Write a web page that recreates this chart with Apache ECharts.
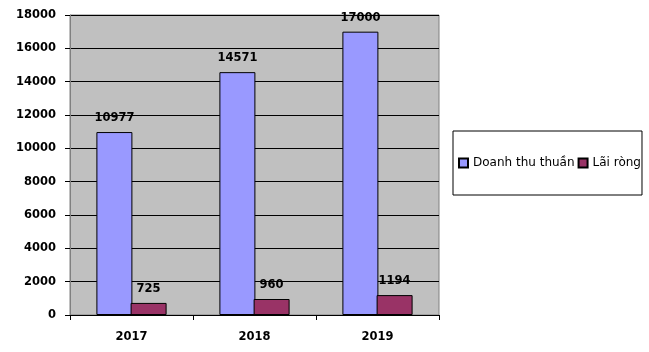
<!DOCTYPE html>
<html>
<head>
<meta charset="utf-8">
<script src="https://cdn.jsdelivr.net/npm/echarts@6/dist/echarts.min.js"></script>
<style>
  html, body { margin: 0; padding: 0; background: #fff; }
  #chart { width: 649px; height: 352px; }
</style>
</head>
<body>
<div id="chart"></div>
<script>
var years = ['2017', '2018', '2019'];
var revenue = [10977, 14571, 17000];
var netProfit = [725, 960, 1194];
var seriesNames = ['Doanh thu thuần', 'Lãi ròng'];
var colors = ['#9999FF', '#993366'];

var font = 'DejaVu Sans';

var labelStyle = {
  show: true,
  position: 'top',
  distance: 8,
  color: '#000',
  fontFamily: font,
  fontWeight: 'bold',
  fontSize: 11.5
};

var chart = echarts.init(document.getElementById('chart'));

var option = {
  animation: false,
  backgroundColor: '#fff',
  grid: {
    left: 70,
    right: 210,
    top: 15,
    bottom: 37,
    show: true,
    backgroundColor: '#C0C0C0',
    borderColor: '#808080',
    borderWidth: 1
  },
  legend: {
    left: 453,
    top: 131,
    orient: 'horizontal',
    padding: [26, 1, 26, 5],
    borderColor: '#000',
    borderWidth: 1,
    itemWidth: 9,
    itemHeight: 9,
    itemGap: 3,
    icon: 'rect',
    textStyle: {
      fontFamily: font,
      fontSize: 12,
      color: '#000'
    },
    data: seriesNames
  },
  xAxis: {
    type: 'category',
    data: years,
    axisLine: { lineStyle: { color: '#000', width: 1 } },
    axisTick: { show: true, length: 5, lineStyle: { color: '#000' } },
    axisLabel: {
      margin: 16,
      color: '#000',
      fontFamily: font,
      fontWeight: 'bold',
      fontSize: 11.5
    }
  },
  yAxis: {
    type: 'value',
    min: 0,
    max: 18000,
    interval: 2000,
    axisLine: { show: true, lineStyle: { color: '#808080' } },
    axisTick: { show: true, length: 5, lineStyle: { color: '#000' } },
    splitLine: { show: true, lineStyle: { color: '#000', width: 1 } },
    axisLabel: {
      margin: 14,
      color: '#000',
      fontFamily: font,
      fontWeight: 'bold',
      fontSize: 11.5,
      formatter: function (v) { return String(v); }
    }
  },
  series: [
    {
      name: seriesNames[0],
      type: 'bar',
      data: revenue,
      barWidth: 36,
      barGap: '-5%',
      itemStyle: { color: colors[0], borderColor: '#000', borderWidth: 1 },
      label: labelStyle
    },
    {
      name: seriesNames[1],
      type: 'bar',
      data: netProfit,
      barWidth: 36,
      barGap: '-5%',
      itemStyle: { color: colors[1], borderColor: '#000', borderWidth: 1 },
      label: labelStyle
    }
  ]
};

chart.setOption(option);
</script>
</body>
</html>
